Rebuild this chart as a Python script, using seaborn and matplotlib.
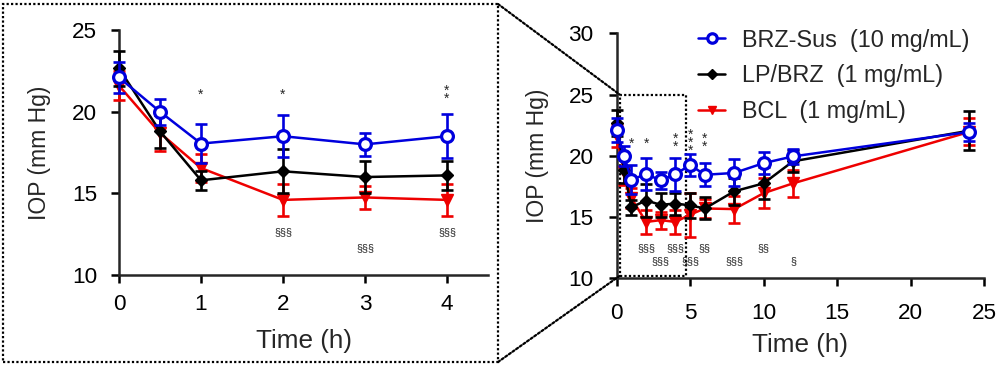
import numpy as np
import matplotlib.pyplot as plt
import pandas as pd
import seaborn as sns
from matplotlib.patches import Rectangle, ConnectionPatch
from matplotlib.transforms import offset_copy

# data (IOP, mean and error)
times = [0, 0.5, 1, 2, 3, 4, 5, 6, 8, 10, 12, 24]
brz_sus = [22.1, 20.0, 18.05, 18.5, 18.0, 18.5, 19.25, 18.45, 18.6, 19.4, 19.95, 21.95]
brz_sus_err = [0.95, 0.8, 1.2, 1.3, 0.7, 1.35, 0.9, 0.95, 1.1, 0.9, 0.6, 0.75]
lp_brz = [22.65, 18.8, 15.8, 16.35, 16.0, 16.1, 15.95, 15.7, 17.1, 17.75, 19.55, 22.05]
lp_brz_err = [1.05, 1.0, 0.6, 1.35, 1.0, 0.9, 1.0, 0.9, 1.1, 1.3, 0.9, 1.6]
bcl = [21.6, 18.7, 16.55, 14.6, 14.75, 14.6, 15.2, 15.7, 15.65, 16.95, 17.75, 21.95]
bcl_err = [0.9, 1.1, 0.85, 1.0, 0.7, 1.0, 1.8, 0.8, 1.1, 1.2, 1.1, 1.1]

labels = ['BRZ-Sus  (10 mg/mL)', 'LP/BRZ  (1 mg/mL)', 'BCL  (1 mg/mL)']

# significance marks
star_t = [1, 2, 4, 5, 6]
star_n = [1, 1, 2, 3, 2]
sec_row1_t = [2, 4, 6, 10]
sec_row1_txt = ['§§§', '§§§', '§§', '§§']
sec_row2_t = [3, 5, 8, 12]
sec_row2_txt = ['§§§', '§§§', '§§§', '§']

sns.set_theme(style="ticks")
plt.rcParams['font.family'] = ['Liberation Sans', 'DejaVu Sans']

rows = []
for lab, m, e in zip(labels, [brz_sus, lp_brz, bcl], [brz_sus_err, lp_brz_err, bcl_err]):
    for t, v, s in zip(times, m, e):
        rows.append({'Time': t, 'IOP': v, 'err': s, 'Group': lab})
df = pd.DataFrame(rows)

styles = {
    labels[0]: dict(color='#0000dd', marker='o', ms=8.5, mfc='white', mew=2.3, z=5),
    labels[1]: dict(color='black', marker='D', ms=6.5, mfc='black', mew=1, z=4),
    labels[2]: dict(color='#ee0000', marker='v', ms=8, mfc='#ee0000', mew=1, z=3),
}

fig = plt.figure(figsize=(10, 3.67), dpi=100)
ax_l = fig.add_axes([0.119, 0.2507, 0.369, 0.6673])
ax_r = fig.add_axes([0.6167, 0.2417, 0.3673, 0.6676])


def draw(ax, tmax, legend):
    for lab in [labels[2], labels[1], labels[0]]:
        st = styles[lab]
        d = df[(df['Group'] == lab) & (df['Time'] <= tmax)]
        ax.errorbar(d['Time'], d['IOP'], yerr=d['err'], fmt='none', ecolor=st['color'],
                    elinewidth=1.9, capsize=4, capthick=1.9, zorder=st['z'], clip_on=False)
        sns.lineplot(data=d, x='Time', y='IOP', ax=ax, color=st['color'], marker=st['marker'],
                     markersize=st['ms'], markerfacecolor=st['mfc'], markeredgecolor=st['color'],
                     markeredgewidth=st['mew'], linewidth=1.8, zorder=st['z'] + 0.5,
                     label=lab if legend else None, clip_on=False)


draw(ax_l, 4, False)
draw(ax_r, 24, True)

for ax in (ax_l, ax_r):
    sns.despine(ax=ax)
    for sp in ['left', 'bottom']:
        ax.spines[sp].set_linewidth(1.8)
    ax.tick_params(axis='both', direction='out', length=5.5, width=1.8, labelsize=16.2,
                   colors='black')
    ax.set_ylabel('IOP (mm Hg)', fontsize=16.5)
    ax.set_xlabel('Time (h)', fontsize=18.8)

ax_l.set_xlim(0, 4.5)
ax_l.set_ylim(10, 25)
ax_l.set_xticks([0, 1, 2, 3, 4])
ax_l.set_yticks([10, 15, 20, 25])
ax_l.tick_params(axis='y', pad=10)
ax_l.tick_params(axis='x', pad=8)
ax_l.yaxis.labelpad = 15
ax_l.xaxis.labelpad = 10

ax_r.set_xlim(0, 25)
ax_r.set_ylim(10, 30)
ax_r.set_xticks([0, 5, 10, 15, 20, 25])
ax_r.set_yticks([10, 15, 20, 25, 30])
ax_r.tick_params(axis='y', pad=11)
ax_r.tick_params(axis='x', pad=12)
ax_r.yaxis.labelpad = 14
ax_r.xaxis.labelpad = 7

# significance annotations: stacked stars as one text each
star_fs = 10
step = 5.3  # points between stacked stars
for ax, yc in [(ax_l, 21.3), (ax_r, 21.35)]:
    for t, n in zip(star_t, star_n):
        if t > ax.get_xlim()[1]:
            continue
        dy = -0.59 * star_fs - (n - 1) / 2 * step
        tr = offset_copy(ax.transData, fig=fig, x=0, y=dy, units='points')
        ax.text(t, yc, '\n'.join(['*'] * n), transform=tr, ha='center', va='baseline',
                fontsize=star_fs, linespacing=step / (1.2 * star_fs))
for ts, txts, yl, yr in [(sec_row1_t, sec_row1_txt, 12.63, 12.5),
                         (sec_row2_t, sec_row2_txt, 11.65, 11.36)]:
    for t, s in zip(ts, txts):
        if t <= 4:
            ax_l.text(t, yl, s, ha='center', va='center', fontsize=7.8)
        ax_r.text(t, yr, s, ha='center', va='center', fontsize=7.8)

handles, labs = ax_r.get_legend_handles_labels()
order = [labs.index(l) for l in labels]
leg = ax_r.legend([handles[i] for i in order], [labs[i] for i in order],
                  loc='upper left', bbox_to_anchor=(0.698, 0.922), bbox_transform=fig.transFigure,
                  frameon=False, fontsize=16.8, handlelength=1.16, handletextpad=0.73,
                  labelspacing=0.54, borderpad=0, borderaxespad=0)
for h in leg.legend_handles:
    h.set_markersize(h.get_markersize() * 0.8)

# zoom box and connectors
dot = dict(linestyle=(0, (1, 1)), linewidth=1.6, color='black')
fig.patches.append(Rectangle((0.003, 1 - 362 / 367), 0.495, 358 / 367, fill=False,
                             transform=fig.transFigure, **dot))
ax_r.add_patch(Rectangle((0.2, 10.2), 4.5, 14.8, fill=False, clip_on=False, zorder=1, **dot))
for ya, yb in [(1 - 4 / 367, 25), (1 - 362 / 367, 10.2)]:
    cp = ConnectionPatch(xyA=(0.498, ya), coordsA='figure fraction', xyB=(0.2, yb),
                         coordsB=ax_r.transData, **dot)
    fig.add_artist(cp)

fig.savefig('out.png', dpi=100)
